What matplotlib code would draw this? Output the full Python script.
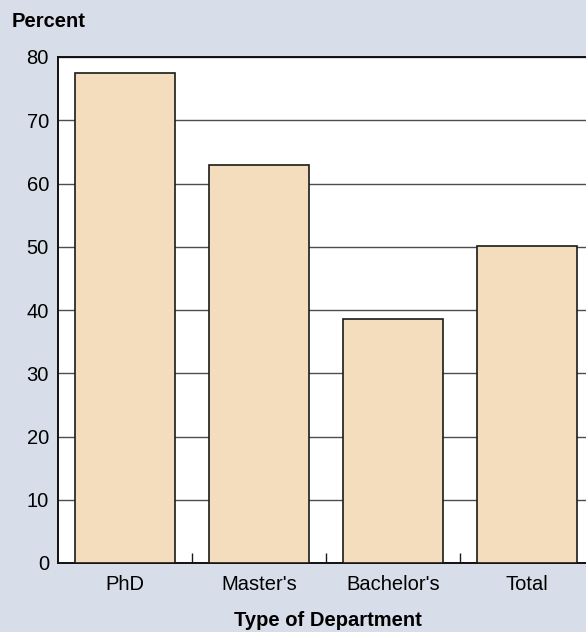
import matplotlib
matplotlib.use("Agg")
import matplotlib.pyplot as plt
from matplotlib.ticker import FixedLocator

plt.rcParams['font.family'] = ['Liberation Sans', 'DejaVu Sans']

categories = ["PhD", "Master's", "Bachelor's", "Total"]
values = [77.5, 63.0, 38.6, 50.1]
yticks = [0, 10, 20, 30, 40, 50, 60, 70, 80]

W, H = 586, 632
fig = plt.figure(figsize=(W / 100, H / 100), dpi=100)
bg = "#d7dee9"
fig.patch.set_facecolor(bg)

left, right, top, bottom = 58, 594, 57, 563
ax = fig.add_axes([left / W, 1 - bottom / H, (right - left) / W, (bottom - top) / H])
ax.set_facecolor("white")

x = list(range(len(categories)))
ax.bar(x, values, width=0.746, color="#f3ddbd", edgecolor="#1a1a1a", linewidth=1.2, zorder=3)

ax.set_xlim(-0.5, len(categories) - 0.5)
ax.set_ylim(0, 80)
ax.set_yticks(yticks)
ax.set_yticklabels([str(v) for v in yticks], fontsize=14.5)
ax.yaxis.grid(True, color="#4d4d4d", linewidth=1.0, zorder=1)
ax.set_axisbelow(True)
ax.tick_params(axis="y", length=0, pad=6.5)

ax.set_xticks(x)
ax.set_xticklabels(categories, fontsize=14.5)
ax.tick_params(axis="x", which="major", length=0, pad=9)
ax.xaxis.set_minor_locator(FixedLocator([0.5, 1.5, 2.5]))
ax.tick_params(axis="x", which="minor", direction="in", length=7, width=1, color="#1a1a1a")

for s in ["left", "bottom", "top"]:
    ax.spines[s].set_color("#111111")
    ax.spines[s].set_linewidth(1.4)
ax.spines["right"].set_visible(False)

fig.text(12 / W, 1 - 27 / H, "Percent", fontsize=14.5, fontweight="bold", ha="left", va="baseline")
fig.text(327.5 / W, 1 - 626 / H, "Type of Department", fontsize=14.5, fontweight="bold", ha="center", va="baseline")

fig.savefig("out.png", dpi=100, facecolor=bg)
